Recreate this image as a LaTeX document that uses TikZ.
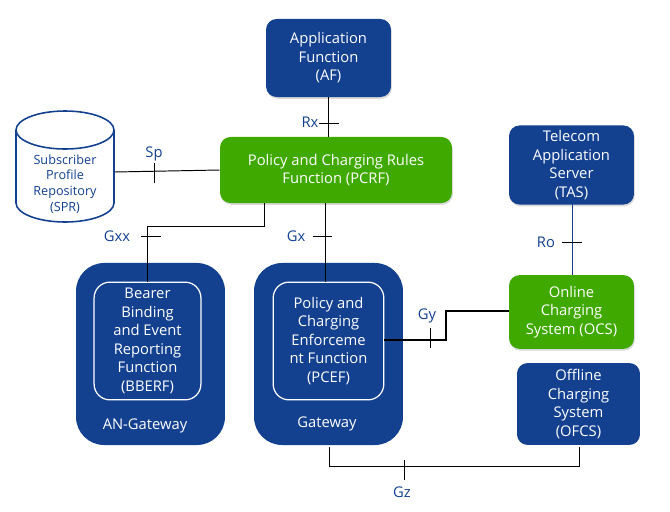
\documentclass[tikz,border=0pt]{standalone}
\usepackage{fontspec}
\setmainfont{Open Sans}
\usetikzlibrary{shadows}
\definecolor{boxblue}{HTML}{134190}
\definecolor{boxgreen}{HTML}{3FA900}
\tikzset{
  plainbox/.style={fill=boxblue, text=white, rounded corners=6pt, align=center, inner sep=0pt,
    font=\fontsize{8.4}{10.5}\selectfont},
  bluebox/.style={plainbox, drop shadow={shadow xshift=0.5pt, shadow yshift=-1pt, opacity=0.3}},
  greenbox/.style={bluebox, fill=boxgreen},
  gatebox/.style={fill=boxblue, rounded corners=16pt, minimum width=84.8pt, minimum height=103.6pt},
  innerbox/.style={plainbox, draw=white, line width=0.7pt, rounded corners=9pt},
  iflabel/.style={text=boxblue, inner sep=0pt, font=\fontsize{8.4}{10.5}\selectfont},
  gatelabel/.style={text=white, inner sep=0pt, font=\fontsize{8.4}{10.5}\selectfont},
  tick/.style={black, line width=0.5pt},
  link/.style={black, line width=0.55pt}
}
\begin{document}
\begin{tikzpicture}[x=0.02cm, y=-0.02cm]
    \useasboundingbox (0,0) rectangle (670,511);
    \node(AF)[bluebox, minimum width=71.1pt, minimum height=44.4pt] at(328.5,58) {Application\\Function\\(AF)};
    \node(PCRF)[greenbox, minimum width=132pt, minimum height=37.6pt] at(336,170) {Policy and Charging Rules\\Function (PCRF)};
    \node(TAS)[bluebox, minimum width=71.1pt, minimum height=45pt] at(571.5,165) {Telecom\\Application\\Server\\(TAS)};
    \node(OCS)[greenbox, minimum width=71.1pt, minimum height=42pt] at(571.5,312) {Online\\Charging\\System (OCS)};
    \node(OFCS)[plainbox, minimum width=70pt, minimum height=46.6pt] at(578.5,404) {Offline\\Charging\\System\\(OFCS)};
    % SPR drum
    \draw[boxblue, line width=0.9pt, fill=white] (16,130) -- (16,203) arc[start angle=180, end angle=0, x radius=49, y radius=19] -- (114,130);
    \draw[boxblue, line width=0.9pt, fill=white] (65,130) ellipse[x radius=49, y radius=19];
    \node(SPR)[minimum width=55.8pt, minimum height=50pt, inner sep=0pt] at(65,172) {};
    \node(SPRtext)[iflabel, align=center, font=\fontsize{7.2}{9}\selectfont] at(65,184) {Subscriber\\Profile\\Repository\\(SPR)};
    \node(ANGW)[gatebox] at(150.5,354) {};
    \node(GW)[gatebox] at(328.5,354) {};
    \node(BBERF)[innerbox, minimum width=60.8pt, minimum height=67pt] at(147.5,341) {Bearer\\Binding\\and Event\\Reporting\\Function\\(BBERF)};
    \node(PCEF)[innerbox, minimum width=63pt, minimum height=67pt] at(328.5,341) {Policy and\\Charging\\Enforceme\\nt Function\\(PCEF)};
    \node(ANGWlabel)[gatelabel] at(145,425.5) {AN-Gateway};
    \node(GWlabel)[gatelabel] at(327,423.5) {Gateway};
    % interfaces
    \node(Rx)[iflabel] at(310,122.5) {Rx};
    \node(Sp)[iflabel] at(154,153.5) {Sp};
    \node(Gxx)[iflabel] at(117,236.5) {Gxx};
    \node(Gx)[iflabel] at(296,236.5) {Gx};
    \node(Ro)[iflabel] at(546,242.5) {Ro};
    \node(Gy)[iflabel] at(427,316) {Gy};
    \node(Gz)[iflabel] at(402,492) {Gz};
    \coordinate(GWfoot) at (329.5,447);
    \coordinate(OFCSfoot) at (579.5,447);
    \coordinate(GyA) at (446,340);
    \coordinate(GyB) at (446,311);
    \draw[link] (328.5,97) -- (328.5,137);
    \draw[link] (SPR.east) -- (PCRF.west);
    \draw[link] (264,203) -- (264,226.5) -- (147.5,226.5) -- (147.5,282);
    \draw[link] (325.5,203) -- (325.5,282);
    \draw[boxblue, line width=0.6pt] (572.5,204) -- (572.5,275);
    \draw[black, line width=1.14pt] (PCEF.east |- GyA) -- (GyA) -- (GyB) -- (OCS.west |- GyB);
    \draw[link] (GWfoot) -- (329.5,466.5) -- (579.5,466.5) -- (OFCSfoot);
    % ticks
    \draw[tick] (319,123.5) -- (339,123.5);
    \draw[tick] (154.5,163) -- (154.5,183);
    \draw[tick] (141,236.5) -- (161,236.5);
    \draw[tick] (313,236.5) -- (332,236.5);
    \draw[tick] (562,242.5) -- (582,242.5);
    \draw[tick] (430.5,328) -- (430.5,348);
    \draw[tick] (404.5,460) -- (404.5,480);
\end{tikzpicture}
\end{document}
